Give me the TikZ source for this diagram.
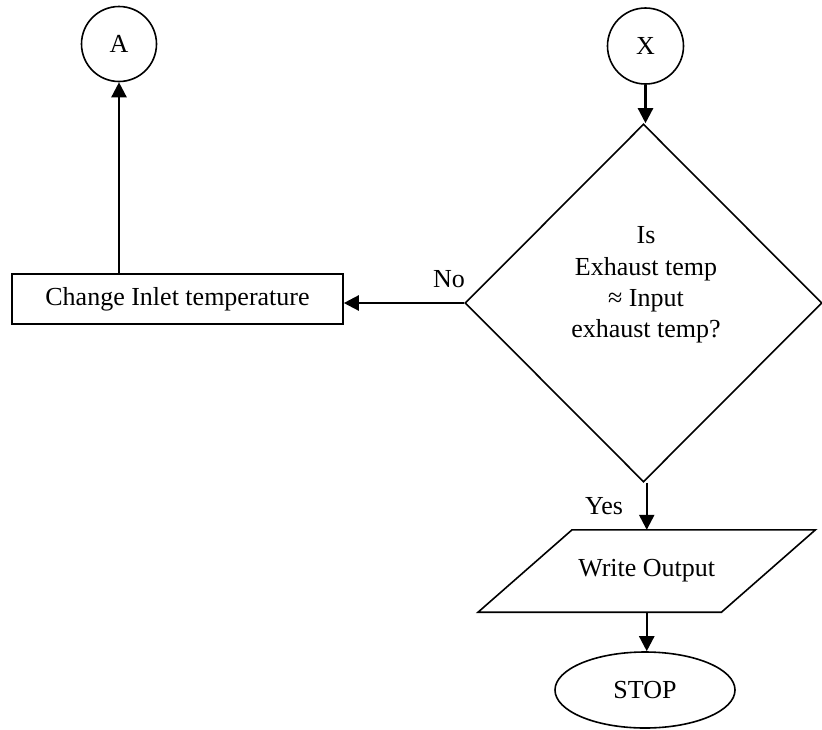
\documentclass[tikz,border=0pt]{standalone}
\usepackage{fontspec}
\setmainfont{Liberation Serif}
\usetikzlibrary{shapes.geometric,arrows.meta,calc}
\begin{document}
\begin{tikzpicture}[x=1pt,y=-1pt,
  font=\fontsize{26}{31.3}\selectfont,
  outline/.style={draw=black,line width=1.6pt},
  conn/.style={line width=2.4pt,-{Triangle[length=15pt,width=15pt]}},
  lbl/.style={inner sep=0pt}]
\useasboundingbox (0,0) rectangle (822,729);
\fill[white] (0,0) rectangle (822,729);
% nodes
\node[outline,circle,minimum size=75pt,inner sep=0pt] (A) at (119,44) {A};
\node[outline,circle,minimum size=76pt,inner sep=0pt] (X) at (645.5,46) {X};
\node[outline,diamond,minimum width=357pt,minimum height=358pt,inner sep=0pt] (D) at (643.5,303) {};
\node[lbl,align=center] (Dt) at (646,285)
  {Is\\Exhaust temp\\\char"2248{} Input\\exhaust temp?};
\node[outline,rectangle,minimum width=331pt,minimum height=50pt,inner sep=0pt] (R) at (177.5,299) {Change Inlet temperature};
\node[minimum width=243pt,minimum height=82pt,inner sep=0pt] (W) at (646.75,571) {Write Output};
\draw[line width=1.6pt] ($(W.north west)+(47,0)$) -- ($(W.north east)+(47,0)$)
  -- ($(W.south east)+(-47,0)$) -- ($(W.south west)+(-47,0)$) -- cycle;
\node[outline,ellipse,minimum width=180pt,minimum height=76pt,inner sep=0pt] (S) at (645,690) {STOP};
% labels
\node[lbl] (no) at (449,279) {No};
\node[lbl] (yes) at (604,506) {Yes};
% connectors
\draw[conn] (X.south) -- (D.north -| X.south);
\draw[conn] (D.west) -- (R.east |- D.west);
\draw[conn] (R.north -| A.south) -- (A.south);
\draw[conn] (D.south -| W.north) -- (W.north);
\draw[conn] (W.south) -- (S.north -| W.south);
\end{tikzpicture}
\end{document}
